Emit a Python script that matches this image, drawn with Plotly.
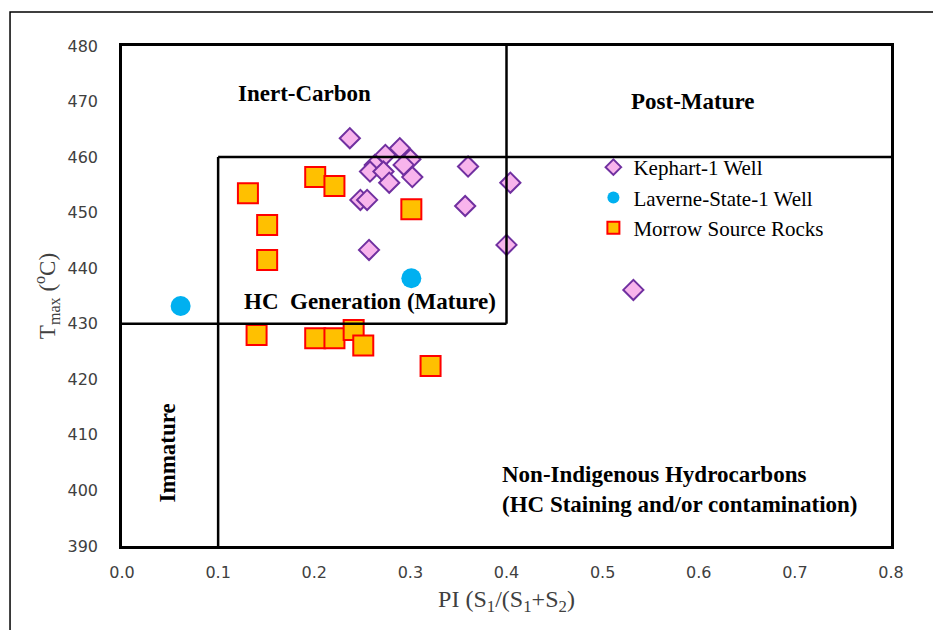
import plotly.graph_objects as go

# Kephart-1 Well samples
kephart_pi = [0.237, 0.274, 0.289, 0.300, 0.263, 0.258, 0.272, 0.293, 0.302, 0.278,
              0.360, 0.404, 0.248, 0.255, 0.357, 0.257, 0.400, 0.532]
kephart_tmax = [463.4, 460.4, 461.6, 459.6, 458.6, 457.4, 457.4, 458.6, 456.4, 455.4,
                458.3, 455.4, 452.3, 452.3, 451.2, 443.3, 444.2, 436.1]

# Laverne-State-1 Well samples
laverne_pi = [0.061, 0.301]
laverne_tmax = [433.2, 438.2]

# Morrow source rocks
morrow_pi = [0.131, 0.201, 0.221, 0.151, 0.151, 0.301,
             0.140, 0.201, 0.221, 0.241, 0.251, 0.321]
morrow_tmax = [453.5, 456.4, 454.8, 447.8, 441.5, 450.6,
               428.0, 427.4, 427.4, 428.9, 426.1, 422.4]

# Maturity zone boundaries
pi_immature = 0.1
pi_inert = 0.4
tmax_mature_low = 430
tmax_mature_high = 460

x_ticks = [0.0, 0.1, 0.2, 0.3, 0.4, 0.5, 0.6, 0.7, 0.8]
y_ticks = [390, 400, 410, 420, 430, 440, 450, 460, 470, 480]

serif = "Liberation Serif, Times New Roman, serif"

fig = go.Figure()

fig.add_trace(go.Scatter(
    x=kephart_pi, y=kephart_tmax, mode="markers", name="Kephart-1 Well",
    marker=dict(symbol="diamond", size=15.5, color="#F8B4EC",
                line=dict(color="#7030A0", width=2)),
))
fig.add_trace(go.Scatter(
    x=laverne_pi, y=laverne_tmax, mode="markers", name="Laverne-State-1 Well",
    marker=dict(symbol="circle", size=20, color="#00B0F0",
                line=dict(color="#00B0F0", width=0)),
))
fig.add_trace(go.Scatter(
    x=morrow_pi, y=morrow_tmax, mode="markers", name="Morrow Source Rocks",
    marker=dict(symbol="square", size=20, color="#FFC000",
                line=dict(color="#FF0000", width=2)),
))

line_style = dict(color="black", width=2.5)
shapes = [
    # Inert-carbon / post-mature divider
    dict(type="line", xref="x", yref="y", x0=pi_inert, x1=pi_inert,
         y0=tmax_mature_low, y1=480, line=line_style),
    # Immature divider
    dict(type="line", xref="x", yref="y", x0=pi_immature, x1=pi_immature,
         y0=390, y1=tmax_mature_high, line=line_style),
    # Upper maturity limit
    dict(type="line", xref="x", yref="y", x0=pi_immature, x1=0.8,
         y0=tmax_mature_high, y1=tmax_mature_high, line=line_style),
    # Lower maturity limit
    dict(type="line", xref="x", yref="y", x0=0.0, x1=pi_inert,
         y0=tmax_mature_low, y1=tmax_mature_low, line=line_style),
    # Figure frame
    dict(type="rect", xref="paper", yref="paper", x0=-0.1456, x1=1.07,
         y0=-0.2, y1=1.068, line=dict(color="black", width=1.5),
         fillcolor="rgba(0,0,0,0)", layer="below"),
]

label_font = dict(family=serif, size=23, color="black")
annotations = [
    dict(x=0.190, y=471.5, text="<b>Inert-Carbon</b>", showarrow=False, font=label_font),
    dict(x=0.593, y=470.1, text="<b>Post-Mature</b>", showarrow=False, font=label_font),
    dict(x=0.258, y=434.1, text="<b>HC  Generation (Mature)</b>", showarrow=False, font=label_font),
    dict(x=0.047, y=406.7, text="<b>Immature</b>", showarrow=False, textangle=-90, font=label_font),
    dict(x=0.393, y=400.1, xanchor="left", align="left",
         text="<b>Non-Indigenous Hydrocarbons<br>(HC Staining and/or contamination)</b>",
         showarrow=False, font=label_font),
]

fig.update_layout(
    width=933, height=630,
    margin=dict(l=122, r=42, t=46, b=84),
    paper_bgcolor="white", plot_bgcolor="white",
    shapes=shapes, annotations=annotations,
    legend=dict(x=0.613, y=0.798, xanchor="left", yanchor="top",
                bgcolor="rgba(0,0,0,0)", font=dict(family=serif, size=21, color="black"),
                itemsizing="constant", tracegroupgap=0),
    xaxis=dict(range=[0, 0.8], tickvals=x_ticks, ticktext=[f"{v:.1f}" for v in x_ticks],
               showgrid=False, zeroline=False, showline=True, mirror=True,
               linecolor="black", linewidth=2.5, ticks="", ticklabelstandoff=10,
               tickfont=dict(family="DejaVu Sans", size=16, color="#404040"),
               title=dict(text="PI (S<sub>1</sub>/(S<sub>1</sub>+S<sub>2</sub>)",
                          font=dict(family=serif, size=24, color="#404040"), standoff=10)),
    yaxis=dict(range=[390, 480], tickvals=y_ticks,
               showgrid=False, zeroline=False, showline=True, mirror=True,
               linecolor="black", linewidth=2.5, ticks="", ticklabelstandoff=18,
               tickfont=dict(family="DejaVu Sans", size=16, color="#404040"),
               title=dict(text="T<sub>max</sub> (<sup>o</sup>C)",
                          font=dict(family=serif, size=23, color="#404040"), standoff=6)),
)

fig.write_html("out.html")
